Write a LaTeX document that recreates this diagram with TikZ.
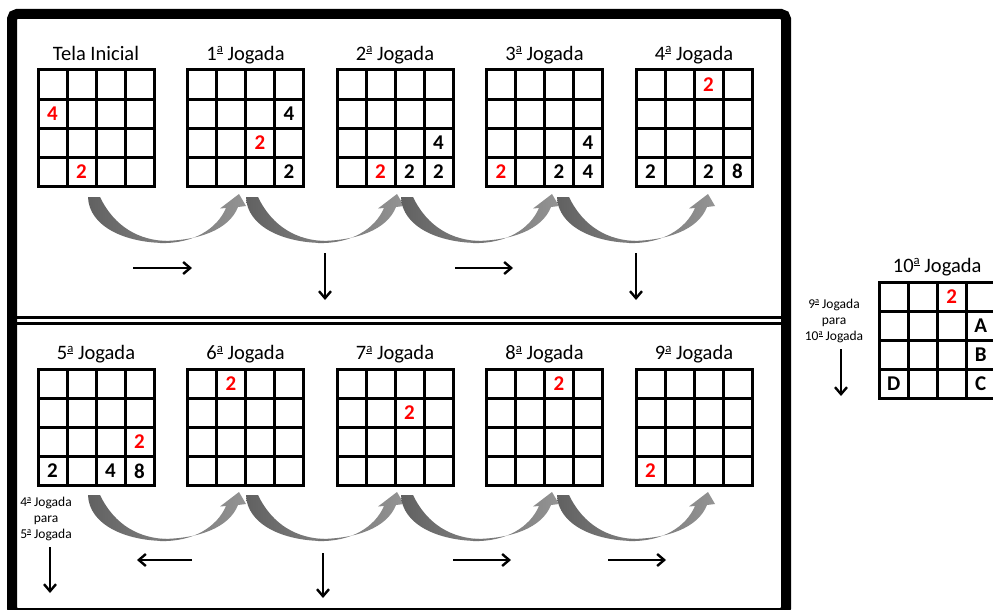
\documentclass[tikz,border=0pt]{standalone}
\usepackage{fontspec}
\setmainfont{Carlito}
\usetikzlibrary{calc,arrows.meta}

% raised, underlined ordinal "a"
\newcommand\oa{\raisebox{.36em}{\scalebox{.62}{\underline{a}}}}

\tikzset{
  board/.style={draw, line width=3pt, minimum size=116pt, inner sep=0pt, outer sep=0pt},
  gridline/.style={line width=3pt},
  num/.style={font=\fontsize{21}{24}\selectfont\bfseries, inner sep=0pt},
  newnum/.style={num, text=red},
  title/.style={font=\fontsize{20.5}{24}\selectfont, inner sep=0pt, anchor=base},
  note/.style={font=\fontsize{13.5}{16}\selectfont, align=center, inner sep=0pt},
  move/.style={line width=2.4pt, -{Straight Barb[length=7pt,width=12pt,line width=2.4pt]}},
  frame/.style={line width=10pt, rounded corners=5pt},
  sep/.style={line width=3pt},
}

% 4x4 board: name, centre x, centre y, title
\newcommand\board[4]{%
  \node[board] (#1) at (#2,#3) {};
  \foreach \k in {1,2,3} {
    \draw[gridline] ($(#1.north west)+(29*\k,0)$) -- ($(#1.south west)+(29*\k,0)$);
    \draw[gridline] ($(#1.north west)+(0,29*\k)$) -- ($(#1.north east)+(0,29*\k)$);
  }
  \node[title] (#1-t) at ($(#1.north)+(0,-10)$) {#4};
}
% tile: board, row, column, style, text
\newcommand\tile[5]{%
  \node[#4] (#1-#2#3) at ($(#1.north west)+(14.5+29*#3,14.5+29*#2)$) {#5};
}
% curved grey arrow, left start at (x,y)
\newcommand\swoop[2]{%
  \begin{scope}[shift={(#1,#2)}]
    \shade[left color=black!62, right color=black!50]
      (0,0) .. controls (1,30) and (38,46) .. (78,46)
      -- (78,44) .. controls (52,43) and (27,31) .. (12,0) -- cycle;
    \shade[left color=black!55, right color=black!42]
      (72,46) .. controls (105,47) and (129,32) .. (138,11)
      -- (132,11.5) -- (151,-3) -- (158,9) -- (150,10)
      .. controls (141,33) and (110,44) .. (72,44) -- cycle;
  \end{scope}
}

\begin{document}
\begin{tikzpicture}[x=1pt,y=-1pt]
  \clip (0,0) rectangle (993,610);
  \fill[white] (0,0) rectangle (993,610);

  % separator between the two rows
  \draw[sep] (12,317.5) -- (786,317.5);
  \draw[sep] (12,323.5) -- (786,323.5);
  % outer frame
  \draw[frame] (12,14) rectangle (786,613);

  % top row
  \board{b0}{96}{128}{Tela Inicial}
  \board{b1}{245.5}{128}{1\oa{} Jogada}
  \board{b2}{395}{128}{2\oa{} Jogada}
  \board{b3}{544.5}{128}{3\oa{} Jogada}
  \board{b4}{694}{128}{4\oa{} Jogada}
  % bottom row
  \board{b5}{96}{427.5}{5\oa{} Jogada}
  \board{b6}{245.5}{427.5}{6\oa{} Jogada}
  \board{b7}{395}{427.5}{7\oa{} Jogada}
  \board{b8}{544.5}{427.5}{8\oa{} Jogada}
  \board{b9}{694}{427.5}{9\oa{} Jogada}
  % last board
  \board{b10}{937.2}{340}{10\oa{} Jogada}

  \tile{b0}{1}{0}{newnum}{4}
  \tile{b0}{3}{1}{newnum}{2}

  \tile{b1}{1}{3}{num}{4}
  \tile{b1}{2}{2}{newnum}{2}
  \tile{b1}{3}{3}{num}{2}

  \tile{b2}{2}{3}{num}{4}
  \tile{b2}{3}{1}{newnum}{2}
  \tile{b2}{3}{2}{num}{2}
  \tile{b2}{3}{3}{num}{2}

  \tile{b3}{2}{3}{num}{4}
  \tile{b3}{3}{0}{newnum}{2}
  \tile{b3}{3}{2}{num}{2}
  \tile{b3}{3}{3}{num}{4}

  \tile{b4}{0}{2}{newnum}{2}
  \tile{b4}{3}{0}{num}{2}
  \tile{b4}{3}{2}{num}{2}
  \tile{b4}{3}{3}{num}{8}

  \tile{b5}{2}{3}{newnum}{2}
  \tile{b5}{3}{0}{num}{2}
  \tile{b5}{3}{2}{num}{4}
  \tile{b5}{3}{3}{num}{8}

  \tile{b6}{0}{1}{newnum}{2}
  \tile{b7}{1}{2}{newnum}{2}
  \tile{b8}{0}{2}{newnum}{2}
  \tile{b9}{3}{0}{newnum}{2}

  \tile{b10}{0}{2}{newnum}{2}
  \tile{b10}{1}{3}{num}{A}
  \tile{b10}{2}{3}{num}{B}
  \tile{b10}{3}{3}{num}{C}
  \tile{b10}{3}{0}{num}{D}

  % curved arrows between boards
  \swoop{88}{197}
  \swoop{246}{197}
  \swoop{401}{197}
  \swoop{557}{197}
  \swoop{88}{495}
  \swoop{246}{495}
  \swoop{401}{495}
  \swoop{557}{495}

  % direction arrows
  \coordinate (t1s) at (133,268);  \coordinate (t1e) at (192,268);
  \coordinate (t2s) at (325,253);  \coordinate (t2e) at (325,300);
  \coordinate (t3s) at (455,268);  \coordinate (t3e) at (513,268);
  \coordinate (t4s) at (636,253);  \coordinate (t4e) at (636,300);
  \coordinate (u1s) at (192,560);  \coordinate (u1e) at (137,560);
  \coordinate (u2s) at (323,553);  \coordinate (u2e) at (323,598);
  \coordinate (u3s) at (453,560);  \coordinate (u3e) at (511,560);
  \coordinate (u4s) at (608,560);  \coordinate (u4e) at (666,560);
  \coordinate (v1s) at (50,547);   \coordinate (v1e) at (50,593);
  \coordinate (v2s) at (841,349);  \coordinate (v2e) at (841,396);
  \foreach \p in {t1,t2,t3,t4,u1,u2,u3,u4,v1,v2}
    \draw[move] (\p s) -- (\p e);

  \node[note] (n1) at (46,519) {4\oa{} Jogada\\para\\5\oa{} Jogada};
  \node[note] (n2) at (834,321) {9\oa{} Jogada\\para\\10\oa{} Jogada};
\end{tikzpicture}
\end{document}
